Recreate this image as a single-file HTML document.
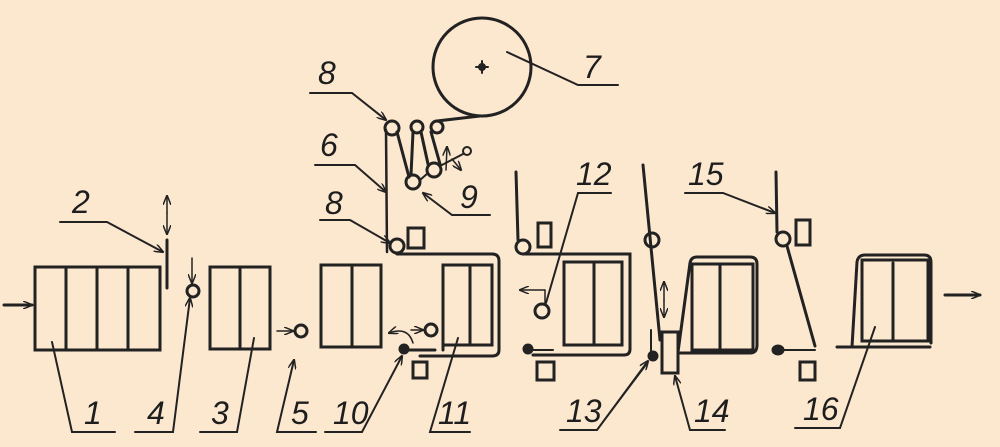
<!DOCTYPE html>
<html><head><meta charset="utf-8"><style>
html,body{margin:0;padding:0;background:#fce7cf;}
svg{display:block}
text{font-family:"Liberation Sans",sans-serif;font-style:italic;font-size:32px;fill:#1e1e1e}
</style></head><body>
<svg width="1000" height="447" viewBox="0 0 1000 447">
<defs><marker id="a" markerWidth="10" markerHeight="8" refX="9" refY="4" orient="auto" markerUnits="userSpaceOnUse"><path d="M0,0 L10,4 L0,8" fill="none" stroke="#222" stroke-width="1.5"/></marker></defs>
<g fill="none" stroke="#222" stroke-width="3" stroke-linecap="round">
<!-- drum 7 -->
<circle cx="482" cy="67" r="49"/>
<path d="M476,67h12M482,61v12" stroke-width="2"/><circle cx="482" cy="67" r="2.5" fill="#222"/>
<!-- rollers top -->
<circle cx="392" cy="128" r="7"/><circle cx="417" cy="127" r="6"/><circle cx="437" cy="127" r="6"/>
<circle cx="434" cy="170" r="7"/><circle cx="413" cy="182" r="7"/>
<path d="M437,121 L480,116"/>
<path d="M386,130 L387,252" stroke-width="2.5"/>
<path d="M397,132 L409,177"/><path d="M413,132 L411,175"/><path d="M421,132 L428,164"/><path d="M431,132 L440,164"/>
<path d="M420,180 L428,173" stroke-width="2"/>
<path d="M440,166 L463,154" stroke-width="2"/><circle cx="467" cy="151" r="4" stroke-width="2"/>
<path d="M446,170 L447,147" stroke-width="1.5" marker-end="url(#a)"/><path d="M452,159 L461,170" stroke-width="1.5" marker-end="url(#a)"/>
<!-- leaders top -->
<path d="M310,93 H352 L386,120" stroke-width="2" marker-end="url(#a)"/>
<path d="M315,165 H355 L386,192" stroke-width="2" marker-end="url(#a)"/>
<path d="M490,215 H452 L423,193" stroke-width="2" marker-end="url(#a)"/>
<path d="M320,220 H350 L390,243" stroke-width="2" marker-end="url(#a)"/>
<path d="M507,52 L578,85 H618" stroke-width="2"/>
<!-- lower 8 roller and web -->
<circle cx="397" cy="246" r="7"/>
<rect x="408" y="228" width="16" height="20"/>
<path d="M397,254 H492 Q499,254 499,261 V350 Q499,356 492,356 H420"/>
<!-- box 1 -->
<rect x="35" y="267" width="125" height="83"/>
<path d="M66,267V350M97,267V350M128,267V350"/>
<path d="M4,305 H32" marker-end="url(#a)"/>
<!-- knife 2 -->
<path d="M167,240 V288"/>
<path d="M167,213 V196" stroke-width="1.5" marker-end="url(#a)"/><path d="M167,213 V234" stroke-width="1.5" marker-end="url(#a)"/>
<path d="M60,222 H107 L163,252" stroke-width="2" marker-end="url(#a)"/>
<!-- roller 4 -->
<circle cx="193" cy="291" r="6"/><path d="M192,258 V283" stroke-width="1.5" marker-end="url(#a)"/>
<path d="M135,432 H173 L190,298" stroke-width="2" marker-end="url(#a)"/>
<!-- box 3 -->
<rect x="210" y="267" width="60" height="82"/><path d="M240,267V349"/>
<path d="M38,432" /><path d="M52,342 L72,432 H115" stroke-width="2"/>
<path d="M200,432 H237 L254,338" stroke-width="2"/>
<!-- roller 5 -->
<circle cx="301" cy="331" r="6"/><path d="M277,331 H293" stroke-width="1.5" marker-end="url(#a)"/>
<path d="M316,432 H277 L294,360" stroke-width="2" marker-end="url(#a)"/>
<!-- middle box -->
<rect x="321" y="265" width="60" height="82"/><path d="M352,265V347"/>
<!-- 10 -->
<circle cx="404" cy="349" r="4" fill="#222"/><path d="M409,350 H435"/>
<circle cx="431" cy="330" r="6"/>
<path d="M411,330 H423" stroke-width="1.5" marker-end="url(#a)"/>
<path d="M413,343 Q408,326 389,333" stroke-width="1.5" marker-end="url(#a)"/>
<rect x="413" y="362" width="14" height="16"/>
<path d="M325,432 H362 L402,356" stroke-width="2" marker-end="url(#a)"/>
<!-- box 11 -->
<path d="M443,350 V265 H492 V345 H443 M470,265 V345"/>
<path d="M470,432 H430 L458,338" stroke-width="2"/>
<!-- section 12 -->
<path d="M516,172 L518,240"/><circle cx="523" cy="247" r="7"/>
<rect x="538" y="223" width="13" height="24"/>
<path d="M523,254 H630 V349 Q630,355 624,355 H533"/>
<circle cx="528" cy="349" r="4" fill="#222"/><path d="M532,350 H553" stroke-width="2"/>
<rect x="537" y="362" width="17" height="18"/>
<rect x="564" y="262" width="58" height="83"/><path d="M594,262V345"/>
<circle cx="542" cy="311" r="7"/>
<path d="M545,290 H520" stroke-width="1.5" marker-end="url(#a)"/><path d="M545,290 V303" stroke-width="1.5"/>
<path d="M611,193 H578 L546,303" stroke-width="2"/>
<!-- section 13/14 -->
<path d="M643,165 L660,340"/><circle cx="652" cy="240" r="7"/>
<path d="M664,300 V282" stroke-width="1.5" marker-end="url(#a)"/><path d="M664,300 V317" stroke-width="1.5" marker-end="url(#a)"/>
<path d="M651,330 V352" stroke-width="2"/><circle cx="653" cy="356" r="4" fill="#222"/>
<rect x="662" y="332" width="16" height="41"/>
<path d="M678,352 L690,263 Q691,257 697,257 H750 Q757,257 757,264 V345 Q757,353 750,353 H678"/>
<rect x="692" y="264" width="61" height="86"/><path d="M720,264V350"/>
<path d="M560,430 H597 L648,361" stroke-width="2" marker-end="url(#a)"/><path d="M597,430 L646,365" stroke-width="1.5"/>
<path d="M725,430 H690 L675,376" stroke-width="2" marker-end="url(#a)"/>
<!-- section 15 -->
<path d="M776,172 L777,232"/><circle cx="783" cy="239" r="7"/>
<path d="M787,246 L815,346"/>
<rect x="796" y="220" width="14" height="25"/>
<ellipse cx="778" cy="350" rx="5" ry="4" fill="#222"/><path d="M783,350 H815" stroke-width="2"/>
<rect x="800" y="362" width="15" height="18"/>
<path d="M685,193 H723 L775,213" stroke-width="2" marker-end="url(#a)"/>
<!-- box 16 -->
<path d="M837,347 H930"/>
<path d="M852,347 L857,262 Q858,255 865,255 H924 Q931,255 931,262 V343"/>
<rect x="862" y="260" width="66" height="81"/><path d="M893,263V341"/>
<path d="M795,428 H840 L875,327" stroke-width="2"/>
<path d="M945,295 H980" marker-end="url(#a)"/>
</g>
<text x="583" y="78">7</text>
<text x="318" y="84">8</text>
<text x="320" y="156">6</text>
<text x="460" y="208">9</text>
<text x="325" y="214">8</text>
<text x="72" y="213">2</text>
<text x="84" y="424">1</text>
<text x="147" y="424">4</text>
<text x="211" y="424">3</text>
<text x="291" y="424">5</text>
<text x="333" y="424">10</text>
<text x="438" y="424">11</text>
<text x="576" y="185">12</text>
<text x="688" y="185">15</text>
<text x="566" y="422">13</text>
<text x="694" y="422">14</text>
<text x="803" y="420">16</text>
</svg>
</body></html>
